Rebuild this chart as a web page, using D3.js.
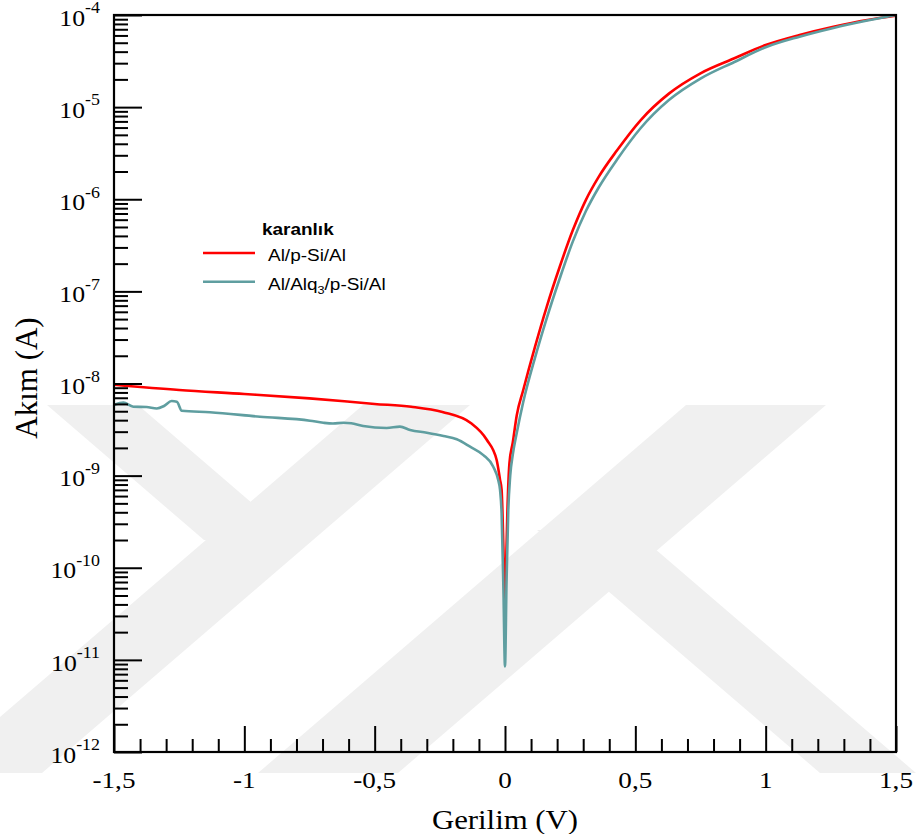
<!DOCTYPE html>
<html>
<head>
<meta charset="utf-8">
<script src="https://cdn.jsdelivr.net/npm/d3@7"></script>
<style>
  body { margin: 0; background: #fff; }
  svg { display: block; }
</style>
</head>
<body>
<svg id="ivChart" width="916" height="834"></svg>
<script>
// dark I-V data
const voltsRed = [-1.5, -1.25, -1.0, -0.75, -0.5, -0.36, -0.24, -0.13, -0.07, -0.032, -0.019, -0.013, -0.006, 0.0,
  0.004, 0.009, 0.017, 0.03, 0.045, 0.07, 0.115, 0.16, 0.21, 0.26, 0.31, 0.36, 0.43, 0.52, 0.63, 0.75, 0.88, 1.0, 1.13, 1.26, 1.39, 1.5];
const currentRed = [9.7e-9, 8.5e-9, 7.7e-9, 6.9e-9, 6.0e-9, 5.6e-9, 4.9e-9, 3.7e-9, 2.45e-9, 1.48e-9, 9.0e-10, 7.0e-10, 1.6e-10, 3.2e-11,
  1.0e-10, 3.9e-10, 1.36e-9, 2.3e-9, 4.5e-9, 8.5e-9, 2.5e-8, 6.8e-8, 1.85e-7, 4.6e-7, 9.8e-7, 1.76e-6, 3.4e-6, 7.2e-6, 1.41e-5, 2.33e-5, 3.39e-5, 4.72e-5, 6.07e-5, 7.46e-5, 8.83e-5, 9.8e-5];

const voltsTeal = [-1.5, -1.464, -1.426, -1.375, -1.336, -1.308, -1.279, -1.259, -1.24, -1.132, -0.94, -0.748, -0.697, -0.66, -0.62, -0.59,
  -0.544, -0.454, -0.403, -0.364, -0.3, -0.236, -0.185, -0.134, -0.083, -0.045, -0.026, -0.019, -0.013, -0.006, 0.0,
  0.006, 0.0126, 0.02, 0.03, 0.045, 0.07, 0.115, 0.16, 0.21, 0.26, 0.31, 0.36, 0.43, 0.52, 0.63, 0.75, 0.88, 1.0, 1.13, 1.26, 1.39, 1.5];
const currentTeal = [5.85e-9, 6.2e-9, 5.6e-9, 5.55e-9, 5.35e-9, 5.7e-9, 6.45e-9, 6.35e-9, 5.07e-9, 4.87e-9, 4.36e-9, 3.95e-9, 3.75e-9, 3.68e-9, 3.75e-9, 3.7e-9,
  3.46e-9, 3.29e-9, 3.4e-9, 3.13e-9, 2.92e-9, 2.69e-9, 2.48e-9, 2.06e-9, 1.67e-9, 1.25e-9, 8.95e-10, 7.0e-10, 3.9e-10, 5.8e-11, 8.5e-12,
  7.4e-11, 4.2e-10, 1.0e-9, 1.7e-9, 2.9e-9, 6.3e-9, 1.9e-8, 5.1e-8, 1.38e-7, 3.47e-7, 7.4e-7, 1.35e-6, 2.7e-6, 5.9e-6, 1.2e-5, 2.04e-5, 3.09e-5, 4.47e-5, 5.82e-5, 7.24e-5, 8.7e-5, 1.0e-4];

const xTickValues = [-1.5, -1, -0.5, 0, 0.5, 1, 1.5];
const xTickLabels = ["-1,5", "-1", "-0,5", "0", "0,5", "1", "1,5"];
const yExponents = [-4, -5, -6, -7, -8, -9, -10, -11, -12];

const seriesNames = ["Al/p-Si/Al", "Al/Alq3/p-Si/Al"];
const seriesColors = ["#ff0000", "#5f9ea0"];

let svg = d3.select("#ivChart"),
    margin = {top: 15, right: 20, bottom: 82, left: 114},
    width = +svg.attr("width") - margin.left - margin.right,
    height = +svg.attr("height") - margin.top - margin.bottom;

let x = d3.scaleLinear().domain([-1.5, 1.5]).range([0, width]),
    y = d3.scaleLog().domain([1e-12, 1e-4]).range([height, 0]);

// faint watermark bands behind the plot
const bands = [
  [[47, 405], [138, 405], [295, 540], [204, 540]],
  [[363, 405], [470, 405], [42, 773], [-65, 773]],
  [[686, 405], [826, 405], [398, 773], [258, 773]],
  [[537, 530], [633, 530], [916, 773], [820, 773]]
];
svg.append("g").selectAll("polygon")
  .data(bands)
  .enter().append("polygon")
    .attr("points", function(d) { return d.map(function(p) { return p.join(","); }).join(" "); })
    .attr("fill", "#f0f0f0");

let g = svg.append("g")
    .attr("transform", "translate(" + margin.left + "," + margin.top + ")");

g.append("clipPath").attr("id", "plotClip")
  .append("rect").attr("width", width).attr("height", height);

let line = d3.line()
    .x(function(d) { return x(d[0]); })
    .y(function(d) { return y(d[1]); })
    .curve(d3.curveMonotoneX);

let redData = d3.zip(voltsRed, currentRed),
    tealData = d3.zip(voltsTeal, currentTeal);

g.append("path")
    .datum(redData)
    .attr("clip-path", "url(#plotClip)")
    .attr("fill", "none")
    .attr("stroke", seriesColors[0])
    .attr("stroke-width", 2.6)
    .attr("d", line);

g.append("path")
    .datum(tealData)
    .attr("clip-path", "url(#plotClip)")
    .attr("fill", "none")
    .attr("stroke", seriesColors[1])
    .attr("stroke-width", 2.6)
    .attr("d", line);

// x axis, ticks pointing inward
let xMinor = d3.range(-14, 15).map(function(i) { return i / 10; })
  .filter(function(v) { return Math.abs(v * 2 - Math.round(v * 2)) > 1e-6; });

g.append("g")
    .attr("class", "axis axis--x")
    .attr("transform", "translate(0," + height + ")")
    .call(d3.axisBottom(x).tickValues(xTickValues).tickSize(-26).tickSizeOuter(0).tickFormat(""));
g.append("g")
    .attr("class", "axis axis--x-minor")
    .attr("transform", "translate(0," + height + ")")
    .call(d3.axisBottom(x).tickValues(xMinor).tickSize(-13).tickSizeOuter(0).tickFormat(""));

// y axis, log decades with 2..9 minor ticks
let yMajor = yExponents.map(function(e) { return Math.pow(10, e); });
let yMinor = [];
for (let e = -12; e < -4; e++) {
  for (let m = 2; m <= 9; m++) yMinor.push(m * Math.pow(10, e));
}
g.append("g")
    .attr("class", "axis axis--y")
    .call(d3.axisLeft(y).tickValues(yMajor).tickSize(-28).tickSizeOuter(0).tickFormat(""));
g.append("g")
    .attr("class", "axis axis--y-minor")
    .call(d3.axisLeft(y).tickValues(yMinor).tickSize(-14).tickSizeOuter(0).tickFormat(""));

g.selectAll(".axis path").remove();
g.selectAll(".axis line").attr("stroke", "#000").attr("stroke-width", 2);

g.append("rect")
    .attr("width", width)
    .attr("height", height)
    .attr("fill", "none")
    .attr("stroke", "#000")
    .attr("stroke-width", 2.2);

// tick labels (Times-like, slightly wide like the source)
let serif = "'Liberation Serif', 'Times New Roman', serif",
    sans = "'Liberation Sans', Arial, sans-serif";

svg.append("g").selectAll("text")
  .data(xTickValues)
  .enter().append("text")
    .attr("transform", function(d) { return "translate(" + (margin.left + x(d)) + "," + 788 + ") scale(1.18,1)"; })
    .attr("text-anchor", "middle")
    .attr("font-family", serif)
    .attr("font-size", 23)
    .text(function(d, i) { return xTickLabels[i]; });

let yLab = svg.append("g").selectAll("text")
  .data(yExponents)
  .enter().append("text")
    .attr("transform", function(d) { return "translate(100," + (margin.top + y(Math.pow(10, d)) + 10.7) + ") scale(1.12,1)"; })
    .attr("text-anchor", "end")
    .attr("font-family", serif)
    .attr("font-size", 23);
yLab.append("tspan").text("10");
yLab.append("tspan")
    .attr("dy", -12.4)
    .attr("font-size", 16)
    .text(function(d) { return d; });

// axis titles
svg.append("text")
    .attr("transform", "translate(" + (margin.left + width / 2) + ",829) scale(1.1,1)")
    .attr("text-anchor", "middle")
    .attr("font-family", serif)
    .attr("font-size", 28)
    .text("Gerilim (V)");

svg.append("text")
    .attr("transform", "translate(37,378) rotate(-90)")
    .attr("text-anchor", "middle")
    .attr("font-family", serif)
    .attr("font-size", 31)
    .text("Akım (A)");

// legend
let legend = svg.append("g");
legend.append("text")
    .attr("transform", "translate(262,235) scale(1.15,1)")
    .attr("font-family", sans)
    .attr("font-weight", "bold")
    .attr("font-size", 16.5)
    .text("karanlık");

let rows = legend.selectAll(".row")
  .data(seriesNames)
  .enter().append("g")
    .attr("class", "row")
    .attr("transform", function(d, i) { return "translate(0," + (253 + i * 28.7) + ")"; });
rows.append("line")
    .attr("x1", 203).attr("x2", 255)
    .attr("stroke", function(d, i) { return seriesColors[i]; })
    .attr("stroke-width", 2.6);
let labels = rows.append("text")
    .attr("transform", "translate(268,8) scale(1.15,1)")
    .attr("font-family", sans)
    .attr("font-size", 16.5);
labels.filter(function(d, i) { return i === 0; }).text(function(d) { return d; });
let second = labels.filter(function(d, i) { return i === 1; });
second.append("tspan").text("Al/Alq");
second.append("tspan").attr("dy", 4).attr("font-size", 11).text("3");
second.append("tspan").attr("dy", -4).text("/p-Si/Al");
</script>
</body>
</html>
